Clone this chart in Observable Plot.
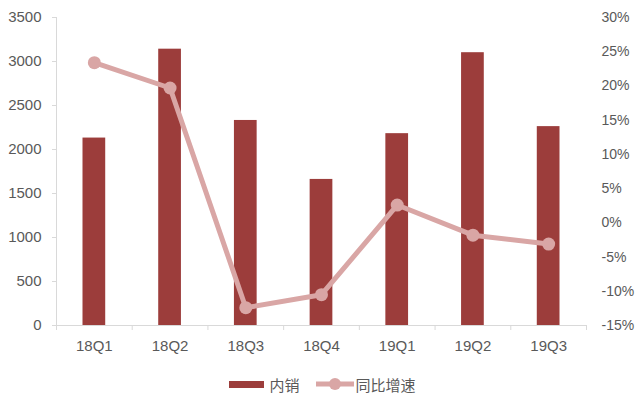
<!DOCTYPE html>
<html>
<head>
<meta charset="utf-8">
<script src="https://cdn.jsdelivr.net/npm/d3@7"></script>
<script src="https://cdn.jsdelivr.net/npm/@observablehq/plot@0.6"></script>
<style>
  html, body { margin: 0; padding: 0; background: #fff; }
  #wrap { width: 635px; height: 396px; position: relative; font-family: "Liberation Sans", Arial, sans-serif; }
  #legend { position: absolute; left: 0; top: 372px; width: 635px; height: 24px; display: flex; justify-content: center; align-items: center; font-family: "Noto Sans CJK SC", sans-serif; font-size: 15px; color: #595959; padding-left: 10px; box-sizing: border-box; }
  .item { display: flex; align-items: center; margin: 0 8px; }
  .barsw { width: 35px; height: 7px; background: #9C3D3B; margin-right: 5px; }
</style>
</head>
<body>
<div id="wrap">
  <div id="chart"></div>
  <div id="legend"></div>
</div>
<script>
const categories = ["18Q1", "18Q2", "18Q3", "18Q4", "19Q1", "19Q2", "19Q3"];
const sales = [2130, 3140, 2330, 1660, 2180, 3100, 2260];
const growth = [23.4, 19.7, -12.4, -10.5, 2.6, -1.8, -3.1];
const leftTicks = [0, 500, 1000, 1500, 2000, 2500, 3000, 3500];
const rightTicks = [-15, -10, -5, 0, 5, 10, 15, 20, 25, 30];
const seriesNames = ["内销", "同比增速"];

const barColor = "#9C3D3B";
const lineColor = "#D9A6A5";
const axisColor = "#D9D9D9";
const textColor = "#595959";

const yMax = 3500, pMin = -15, pMax = 30;
const p2v = p => (p - pMin) / (pMax - pMin) * yMax;
const v2p = v => Math.round(v / yMax * (pMax - pMin) + pMin);

const data = categories.map((c, i) => ({cat: c, i, sales: sales[i], growth: growth[i], gv: p2v(growth[i])}));

const chart = Plot.plot({
  width: 635,
  height: 360,
  marginTop: 17,
  marginBottom: 35,
  marginLeft: 56,
  marginRight: 49,
  style: {fontFamily: "Liberation Sans, Arial, sans-serif", fontSize: "15px", background: "white", overflow: "visible"},
  x: {domain: [0, categories.length], axis: null},
  y: {domain: [0, yMax], axis: null},
  marks: [
    Plot.rectY(data, {x1: d => d.i, x2: d => d.i + 1, y: "sales", fill: barColor, insetLeft: 26.5, insetRight: 26.5}),
    Plot.ruleX([0], {stroke: axisColor, strokeWidth: 1}),
    Plot.ruleY([0], {stroke: axisColor, strokeWidth: 1.2, x1: -0.04, x2: categories.length}),
    Plot.axisY({anchor: "left", ticks: leftTicks, tickFormat: d => String(d), tickSize: 4, tickPadding: 11, stroke: axisColor, fill: textColor, fontSize: 15}),
    Plot.axisY({anchor: "right", ticks: rightTicks.map(p2v), tickFormat: v => v2p(v) + "%", tickSize: 0, tickPadding: 15, textAnchor: "start", fill: textColor, fontSize: 14}),
    Plot.axisX({anchor: "bottom", ticks: d3.range(0, categories.length + 1), tickFormat: () => "", tickSize: 5, stroke: axisColor}),
    Plot.axisX({anchor: "bottom", ticks: categories.map((c, i) => i + 0.5), tickFormat: v => categories[Math.floor(v)], tickSize: 0, tickPadding: 15, fill: textColor, fontSize: 15}),
    Plot.line(data, {x: d => d.i + 0.5, y: "gv", stroke: lineColor, strokeWidth: 5}),
    Plot.dot(data, {x: d => d.i + 0.5, y: "gv", r: 6.5, fill: lineColor, stroke: "none"})
  ]
});
document.getElementById("chart").appendChild(chart);

const legend = document.getElementById("legend");
legend.innerHTML = `
  <div class="item"><div class="barsw"></div><span>${seriesNames[0]}</span></div>
  <div class="item"><svg width="38" height="14" style="margin-right:2px"><line x1="0" y1="7" x2="38" y2="7" stroke="${lineColor}" stroke-width="5"/><circle cx="19" cy="7" r="6" fill="${lineColor}"/></svg><span>${seriesNames[1]}</span></div>
`;
</script>
</body>
</html>
